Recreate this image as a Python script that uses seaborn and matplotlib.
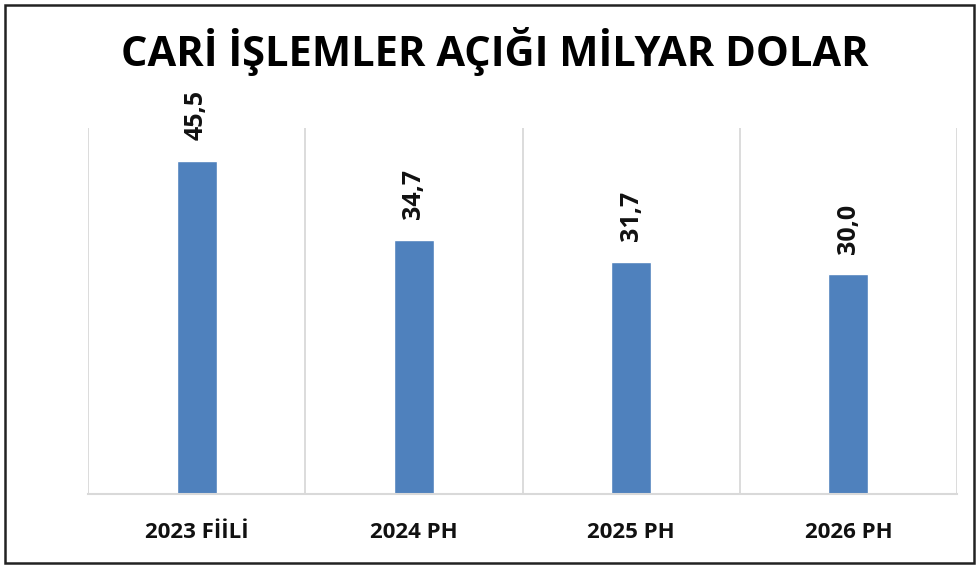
import matplotlib
matplotlib.use("Agg")
import matplotlib.pyplot as plt
import seaborn as sns
import numpy as np
from matplotlib.ticker import FixedLocator
from matplotlib.patches import Rectangle

categories = ["2023 FİİLİ", "2024 PH", "2025 PH", "2026 PH"]
values = [45.5, 34.7, 31.7, 30.0]
title = "CARİ İŞLEMLER AÇIĞI MİLYAR DOLAR"

sns.set_theme(style="white")
plt.rcParams['font.family'] = ['Open Sans', 'DejaVu Sans']

fig = plt.figure(figsize=(9.76, 5.66), dpi=100)
ax = fig.add_axes([88/976, 1-494/566, (957-88)/976, (494-128)/566])

sns.barplot(x=categories, y=values, color="#4F81BD", width=0.185,
            saturation=1, ax=ax)

ax.set_ylim(0, 50)
ax.set_xlim(-0.5, len(categories) - 0.5)
ax.set_yticks([])
ax.set_ylabel("")
ax.set_xlabel("")

bounds = np.arange(len(categories) + 1) - 0.5
ax.xaxis.set_minor_locator(FixedLocator(bounds))
ax.grid(which="minor", axis="x", color="#D9D9D9", linewidth=1.3)
ax.grid(which="major", visible=False)
ax.tick_params(axis="x", which="both", length=0, pad=20)
for lab in ax.get_xticklabels():
    lab.set_fontweight("bold")
    lab.set_fontsize(16)
    lab.set_color("#111111")

for s in ["top", "right", "left"]:
    ax.spines[s].set_visible(False)
ax.spines["bottom"].set_color("#D9D9D9")
ax.spines["bottom"].set_linewidth(1.5)

labels = [f"{v:.1f}".replace(".", ",") for v in values]
ax.bar_label(ax.containers[0], labels=labels, rotation=90, padding=15,
             fontsize=18, fontweight="bold", color="#111111")

fig.text(0.5 + 7/976, 1 - 52/566, title, ha="center", va="center",
         fontsize=30, fontweight="bold", color="#000000")

fig.patches.append(Rectangle((5/976, 3/566), 969/976, 558/566,
                             transform=fig.transFigure, fill=False,
                             edgecolor="#222222", linewidth=1.8))

fig.savefig("out.png", dpi=100)
